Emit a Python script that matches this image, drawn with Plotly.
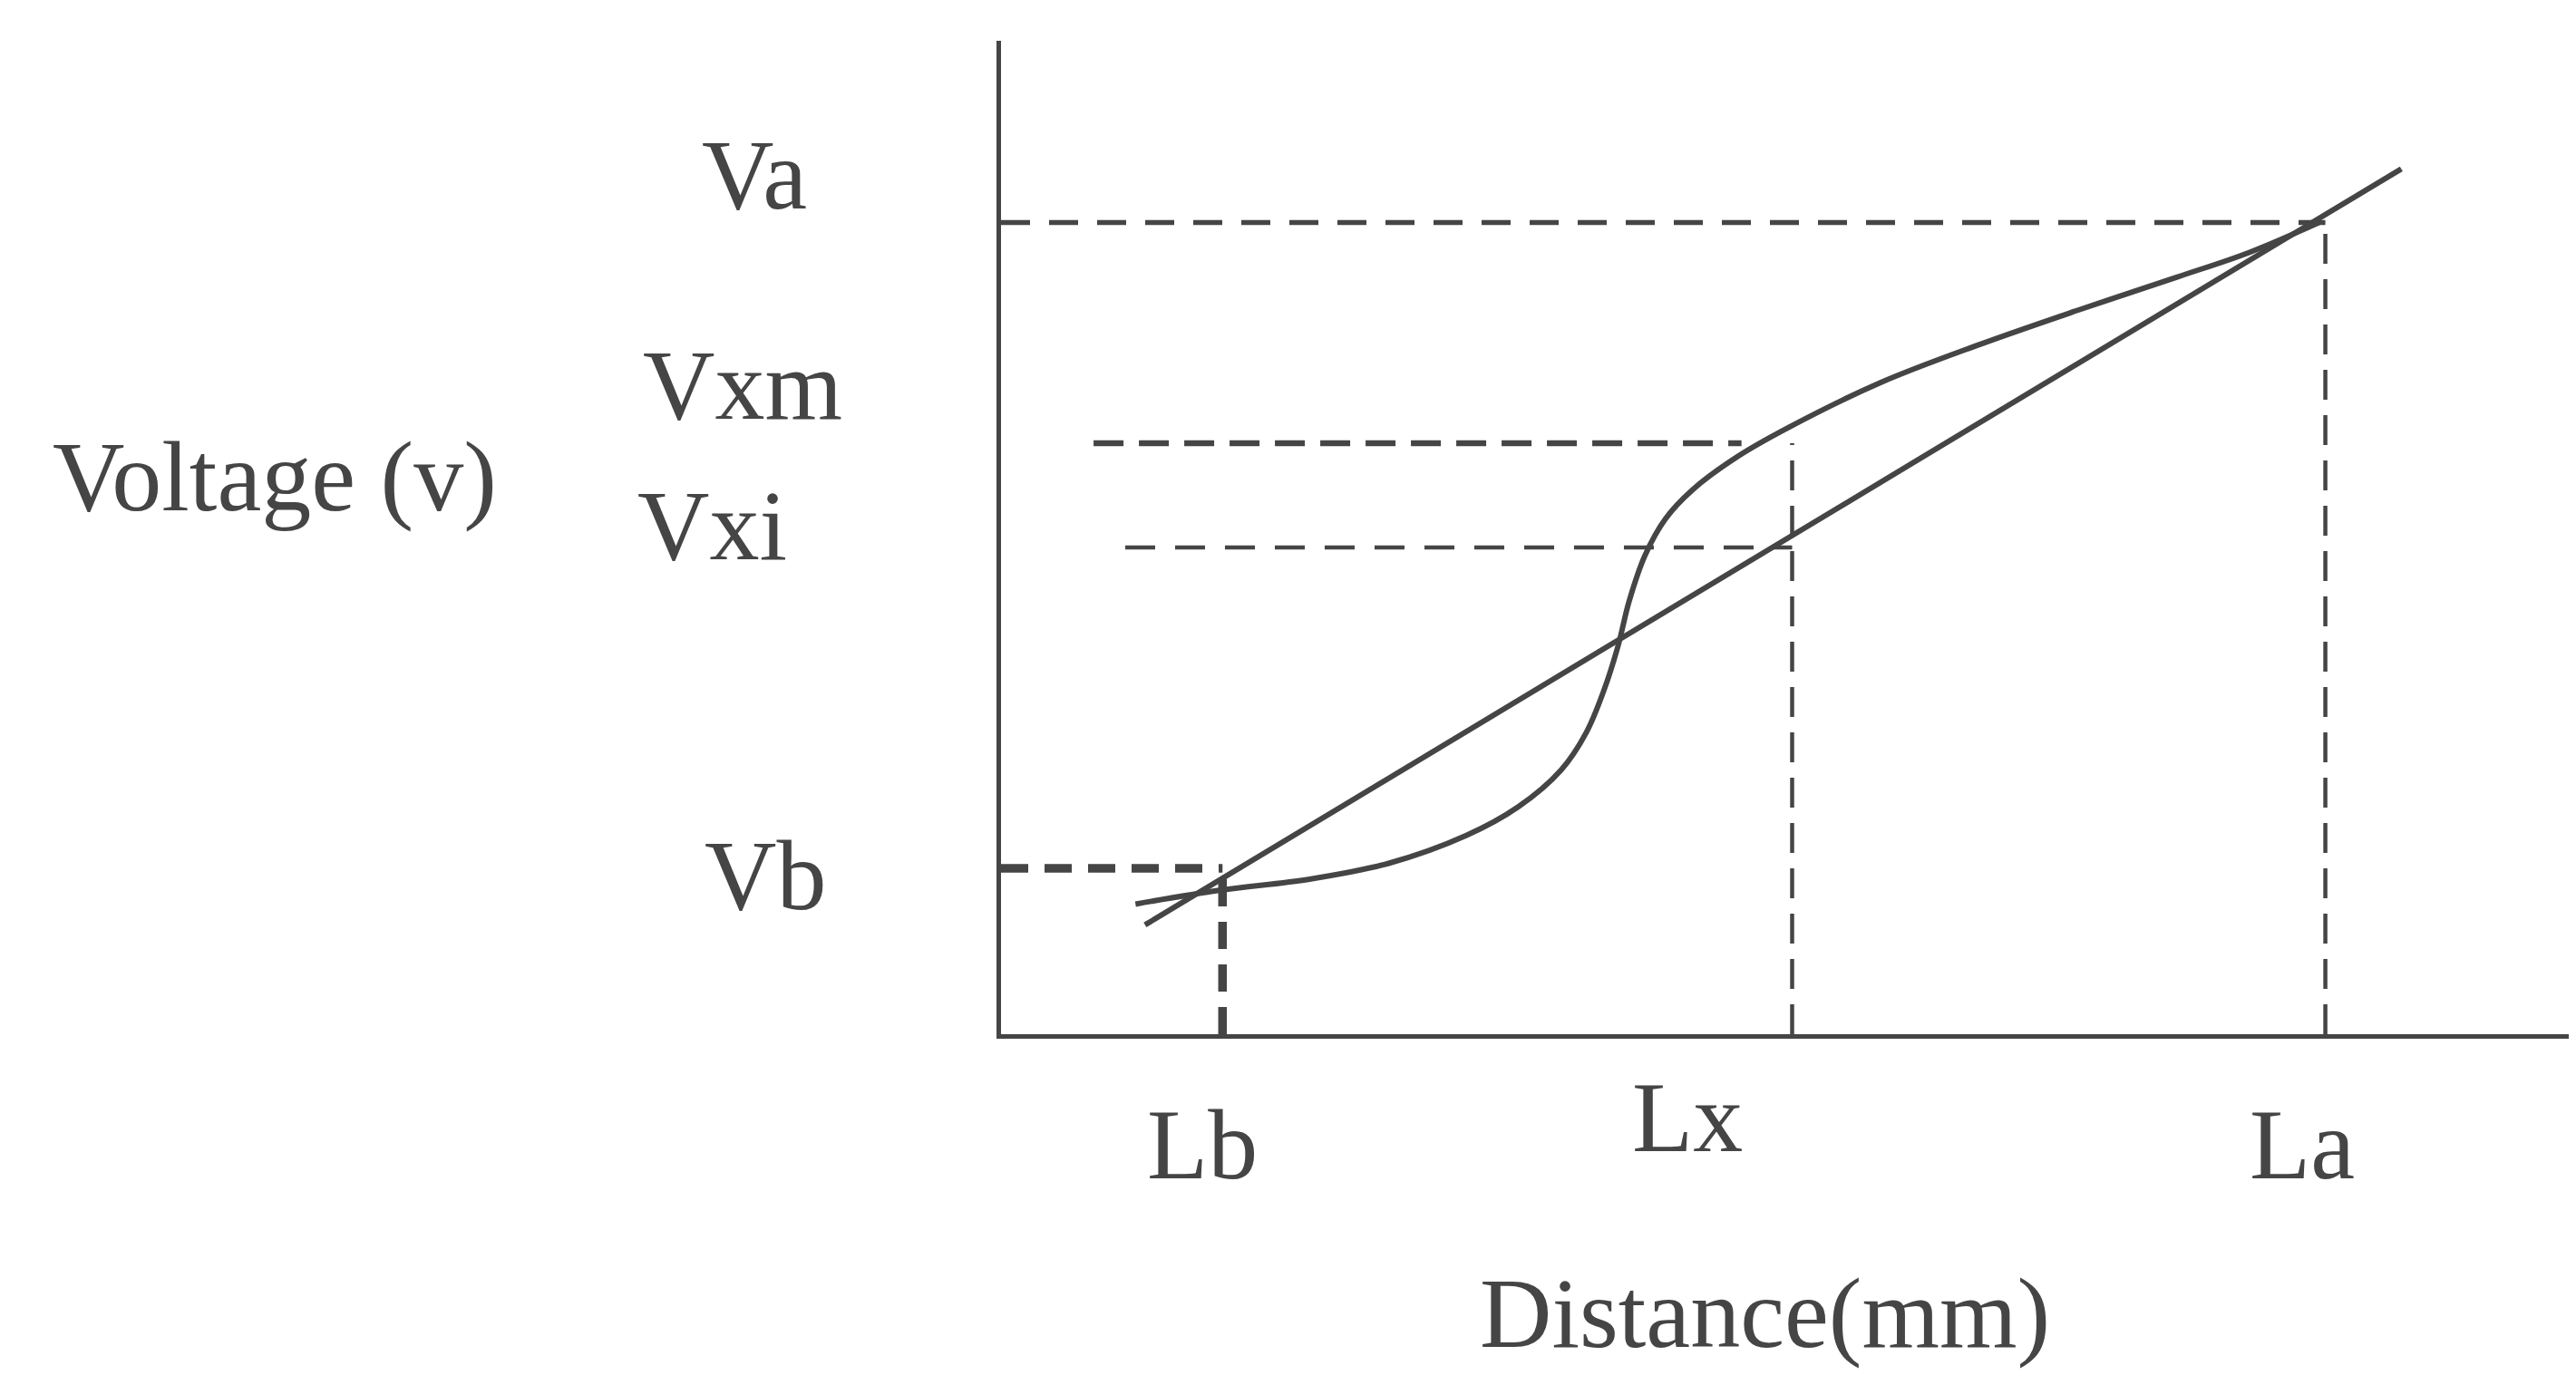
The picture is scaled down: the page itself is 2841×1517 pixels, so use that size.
import plotly.graph_objects as go

# ---- data (arbitrary units) ----
dist_labels = ["Lb", "Lx", "La"]
dist_values = [14.0, 50.0, 83.7]

volt_labels = ["Va", "Vxm", "Vxi", "Vb"]
volt_values = [81.7, 59.5, 49.0, 16.7]

# uniform (linear) potential distribution
linear_x = [9.1, 88.5]
linear_y = [11.0, 87.1]

# non-uniform (S-shaped) potential distribution
curve_x = [8.5, 13.9, 19.5, 24.5, 29.4, 32.7, 35.4, 37.0, 38.1, 39.0, 39.7,
           40.7, 42.0, 43.7, 46.5, 49.8, 55.6, 61.8, 68.1, 74.3, 78.9, 83.3]
curve_y = [13.1, 14.5, 15.6, 17.2, 20.0, 22.9, 26.6, 30.4, 34.6, 39.1, 43.6,
           48.2, 51.9, 54.8, 58.1, 61.1, 65.6, 69.4, 72.9, 76.2, 78.7, 81.7]

x_title = "Distance(mm)"
y_title = "Voltage (v)"

# ---- styling ----
INK = "#454545"
FONT = "Liberation Serif"
FS = 110

W, H = 2841, 1517
ML, MR, MT, MB = 1096, 0, 37, 384

# horizontal guide lines
h_style = {
    "Va":  dict(x0=0.0, x1=dist_values[2], w=5.5, dash="32px,21px"),
    "Vxm": dict(x0=5.85, x1=46.8, w=6.5, dash="33px,17px"),
    "Vxi": dict(x0=7.85, x1=dist_values[1], w=4.5, dash="33px,22px"),
    "Vb":  dict(x0=0.0, x1=dist_values[0], w=9.5, dash="30px,18px"),
}
# vertical guide lines
v_style = {
    "Lb": dict(top=volt_values[3], w=9.5, dash="30px,17px"),
    "Lx": dict(top=volt_values[1], w=4.5, dash="33px,17px"),
    "La": dict(top=volt_values[0], w=4.5, dash="33px,17px"),
}
# label offsets in pixels (xshift, yshift)
x_label_shift = {"Lb": (-22, -122), "Lx": (-116, -92), "La": (-26, -122)}
y_label_shift = {"Va": (-272, 53), "Vxm": (-285, 64), "Vxi": (-319, 24), "Vb": (-260, -8)}
# axis-title positions, relative to the plotting area
x_title_pos = (0.4830, -0.2810)
y_title_pos = (-0.4590, 0.5610)

fig = go.Figure()

for name, val in zip(volt_labels, volt_values):
    s = h_style[name]
    fig.add_trace(go.Scatter(x=[s["x0"], s["x1"]], y=[val, val], mode="lines",
                             line=dict(color=INK, width=s["w"], dash=s["dash"]),
                             hoverinfo="skip", showlegend=False))

for name, val in zip(dist_labels, dist_values):
    s = v_style[name]
    fig.add_trace(go.Scatter(x=[val, val], y=[0, s["top"]], mode="lines",
                             line=dict(color=INK, width=s["w"], dash=s["dash"]),
                             hoverinfo="skip", showlegend=False))

fig.add_trace(go.Scatter(x=linear_x, y=linear_y, mode="lines",
                         line=dict(color=INK, width=6),
                         hoverinfo="skip", showlegend=False))
fig.add_trace(go.Scatter(x=curve_x, y=curve_y, mode="lines",
                         line=dict(color=INK, width=6, shape="spline", smoothing=1.0),
                         hoverinfo="skip", showlegend=False))

ann = []
for name, val in zip(dist_labels, dist_values):
    dx, dy = x_label_shift[name]
    ann.append(dict(x=val, y=0, xref="x", yref="y", text=name, showarrow=False,
                    xanchor="center", yanchor="middle", xshift=dx, yshift=dy,
                    font=dict(family=FONT, size=FS, color=INK)))
for name, val in zip(volt_labels, volt_values):
    dx, dy = y_label_shift[name]
    ann.append(dict(x=0, y=val, xref="x", yref="y", text=name, showarrow=False,
                    xanchor="center", yanchor="middle", xshift=dx, yshift=dy,
                    font=dict(family=FONT, size=FS, color=INK)))

ann.append(dict(x=x_title_pos[0], y=x_title_pos[1], xref="paper", yref="paper",
                text=x_title, showarrow=False, xanchor="center", yanchor="middle",
                font=dict(family=FONT, size=FS, color=INK)))
ann.append(dict(x=y_title_pos[0], y=y_title_pos[1], xref="paper", yref="paper",
                text=y_title, showarrow=False, xanchor="center", yanchor="middle",
                font=dict(family=FONT, size=FS, color=INK)))

fig.update_layout(
    width=W, height=H,
    margin=dict(l=ML, r=MR, t=MT, b=MB),
    paper_bgcolor="white", plot_bgcolor="white",
    annotations=ann,
    xaxis=dict(range=[0, 100], showgrid=False, zeroline=False, showticklabels=False,
               ticks="", showline=True, linecolor=INK, linewidth=5),
    yaxis=dict(range=[0, 100], showgrid=False, zeroline=False, showticklabels=False,
               ticks="", showline=True, linecolor=INK, linewidth=5),
)

fig.write_html("out.html")
